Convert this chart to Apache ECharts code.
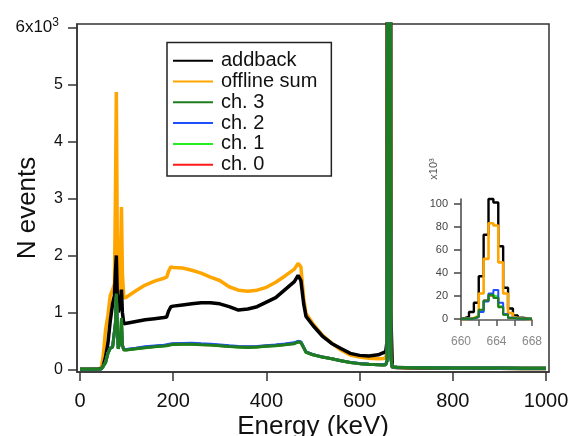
<!DOCTYPE html>
<html><head><meta charset="utf-8">
<script src="https://cdn.jsdelivr.net/npm/echarts@6/dist/echarts.min.js"></script>
<style>html,body{margin:0;padding:0;background:#fff}#c{width:568px;height:436px}</style>
</head><body><div id="c"></div>
<script>
// ---- main spectrum (keV, counts) ----
const energy = [
  0, 20, 40, 46, 50, 55, 60, 65, 70, 74,
  76, 78, 80, 82, 85, 87, 89, 91, 94, 100,
  120, 140, 160, 180, 186, 190, 195, 200, 220, 240,
  260, 280, 300, 320, 340, 360, 380, 400, 420, 440,
  460, 468, 474, 480, 485, 500, 520, 540, 560, 580,
  600, 620, 640, 650, 656, 659, 661, 663, 665, 667,
  670, 680, 700, 750, 800, 850, 900, 950, 1000
];
const offlineSum = [
  0, 2, 8, 30, 250, 700, 950, 1300, 1400, 1500,
  3000, 4870, 2400, 1450, 1350, 1900, 2850, 1700, 1250, 1270,
  1380, 1480, 1550, 1600, 1620, 1720, 1800, 1790, 1780, 1740,
  1690, 1620, 1560, 1450, 1390, 1370, 1390, 1440, 1530, 1640,
  1760, 1860, 1800, 1250, 980, 800, 600, 460, 340, 250,
  215, 195, 185, 190, 200, 400, 40000, 83000, 40000, 800,
  35, 30, 28, 25, 22, 20, 18, 16, 15
];
const addback = [
  0, 1, 5, 15, 60, 220, 460, 850, 1150, 1300,
  1700, 2000, 1300, 1000, 1100, 1250, 1400, 1000, 800, 810,
  840, 870, 890, 910, 920, 1020, 1100, 1110, 1130, 1150,
  1170, 1170, 1150, 1100, 1040, 1060, 1100, 1180, 1260, 1400,
  1540, 1650, 1560, 1150, 930, 770, 585, 455, 365, 280,
  245, 235, 255, 290, 310, 500, 50000, 104000, 50000, 1000,
  40, 30, 28, 25, 22, 20, 18, 16, 15
];
const ch3 = [
  0, 1, 3, 8, 40, 120, 280, 370, 390, 420,
  800, 1330, 800, 360, 350, 550, 900, 420, 340, 340,
  360, 380, 395, 410, 415, 425, 430, 435, 440, 440,
  430, 425, 415, 400, 390, 385, 390, 405, 415, 430,
  450, 480, 470, 380, 300, 255, 215, 185, 150, 120,
  100, 88, 80, 78, 80, 150, 10000, 21000, 10000, 200,
  40, 35, 30, 28, 25, 24, 22, 20, 20
];
const ch2 = [
  0, 1, 3, 8, 42, 125, 290, 375, 395, 425,
  820, 1300, 820, 370, 355, 500, 750, 430, 350, 350,
  370, 395, 410, 425, 430, 440, 445, 450, 455, 458,
  448, 440, 428, 412, 400, 395, 400, 415, 428, 445,
  465, 492, 480, 385, 305, 258, 218, 188, 152, 122,
  102, 90, 82, 80, 82, 150, 11000, 25000, 11000, 200,
  40, 35, 30, 28, 25, 24, 22, 20, 20
];
const ch1 = [
  0, 1, 3, 8, 38, 118, 282, 368, 392, 418,
  790, 1280, 790, 362, 352, 540, 880, 425, 342, 342,
  362, 384, 400, 415, 420, 430, 436, 442, 446, 445,
  436, 430, 420, 404, 394, 388, 393, 408, 420, 436,
  458, 488, 476, 382, 300, 255, 215, 185, 150, 120,
  100, 88, 80, 78, 80, 150, 10000, 20500, 10000, 200,
  40, 35, 30, 28, 25, 24, 22, 20, 20
];
const ch0 = [
  0, 1, 3, 8, 40, 122, 285, 372, 393, 422,
  810, 1310, 810, 365, 352, 530, 860, 422, 345, 345,
  365, 388, 402, 418, 422, 434, 440, 445, 448, 446,
  438, 432, 420, 405, 395, 390, 396, 410, 422, 438,
  460, 486, 474, 382, 302, 256, 216, 186, 151, 121,
  100, 88, 80, 78, 80, 150, 10000, 20000, 10000, 200,
  40, 35, 30, 28, 25, 24, 22, 20, 20
];

// ---- inset: photopeak histogram (bin edges keV, counts x10^3) ----
const insetEdges = [660.0, 660.35, 660.9, 661.45, 662.0, 662.55, 663.1, 663.65, 664.2, 664.75, 665.3, 665.85, 666.4, 666.95, 667.5, 668.0];
const insetAddback = [0.5, 2, 6, 14, 37, 73, 104, 101, 63, 27, 9, 3, 1, 0.3, 0];
const insetOffline = [0, 0.2, 0.8, 2.5, 22, 52, 83, 81, 49, 22, 5, 1, 0.3, 0, 0];
const insetCh3 = [0, 0, 0.3, 2, 8, 16, 21, 18, 10, 3.5, 0.8, 0.2, 0, 0, 0];
const insetCh2 = [0, 0, 0.3, 1.5, 6, 15, 22, 25, 14, 4, 1, 0.2, 0, 0, 0];
const insetCh1 = [0, 0, 0.3, 1.8, 7, 15.5, 20.5, 19, 11, 3.5, 1, 0.2, 0, 0, 0];
const insetCh0 = [0, 0, 0.2, 1.5, 7, 16, 20, 18.5, 10.5, 3.8, 1, 0.2, 0, 0, 0];

// ---- ticks ----
const xTicks = [0, 200, 400, 600, 800, 1000];
const yTicks = [0, 1000, 2000, 3000, 4000, 5000, 6000];
const insetXTicks = [660, 662, 664, 666, 668];
const insetXLabels = [660, 664, 668];
const insetYTicks = [0, 20, 40, 60, 80, 100];

const FONT = '"Liberation Sans", Arial, Helvetica, sans-serif';
const names = ['addback', 'offline sum', 'ch. 3', 'ch. 2', 'ch. 1', 'ch. 0'];
const colors = {
  'addback': '#000000', 'offline sum': '#FFA500', 'ch. 3': '#1E7D1E',
  'ch. 2': '#1F4FFF', 'ch. 1': '#22EE22', 'ch. 0': '#FF1A1A'
};

const pair = (xs, ys) => xs.map((x, i) => [x, ys[i]]);
const steps = (edges, counts) => edges.map((e, i) => [e, counts[Math.min(i, counts.length - 1)]]);

function mainSeries(name, ys, w) {
  return { name, type: 'line', xAxisIndex: 0, yAxisIndex: 0, data: pair(energy, ys),
    showSymbol: false, symbol: 'none', clip: true, color: colors[name],
    lineStyle: { width: w, color: colors[name] } };
}
function insetSeries(name, ys, w) {
  return { name, type: 'line', xAxisIndex: 1, yAxisIndex: 1, data: steps(insetEdges, ys),
    step: 'end', showSymbol: false, symbol: 'none', clip: false, color: colors[name],
    lineStyle: { width: w, color: colors[name] } };
}

const chart = echarts.init(document.getElementById('c'), null, { renderer: 'canvas' });
chart.setOption({
  animation: false,
  backgroundColor: '#fff',
  textStyle: { fontFamily: FONT },
  grid: [
    { left: 77, top: 24, width: 472, height: 348, show: true, borderColor: '#333', borderWidth: 1.5,
      backgroundColor: 'transparent', containLabel: false, outerBoundsMode: 'none' },
    { left: 461, top: 199, width: 71, height: 121, show: false, containLabel: false, outerBoundsMode: 'none' }
  ],
  xAxis: [
    { type: 'value', gridIndex: 0, min: -6.4, max: 1006.4,
      axisLine: { show: true, onZero: false, lineStyle: { color: '#333', width: 1.5 } },
      axisTick: { show: true, inside: false, length: 9, customValues: xTicks, lineStyle: { color: '#333', width: 1.5 } },
      axisLabel: { customValues: xTicks, margin: 19, fontSize: 20, color: '#111', fontFamily: FONT, formatter: v => String(v) },
      splitLine: { show: false },
      name: 'Energy (keV)', nameLocation: 'middle', nameGap: 42, nameMoveOverlap: false,
      nameTextStyle: { fontSize: 26, color: '#111', fontFamily: FONT } },
    { type: 'value', gridIndex: 1, min: 660, max: 668,
      axisLine: { show: true, onZero: false, lineStyle: { color: '#555', width: 1.5 } },
      axisTick: { show: true, length: 6, customValues: insetXTicks, lineStyle: { color: '#555', width: 1.5 } },
      axisLabel: { customValues: insetXLabels, margin: 16, fontSize: 12, color: '#888', fontFamily: FONT, formatter: v => String(v) },
      splitLine: { show: false } }
  ],
  yAxis: [
    { type: 'value', gridIndex: 0, min: -47, max: 6065,
      axisLine: { show: true, onZero: false, lineStyle: { color: '#333', width: 1.5 } },
      axisTick: { show: true, inside: false, length: 9, customValues: yTicks, lineStyle: { color: '#333', width: 1.5 } },
      axisLabel: { customValues: yTicks, margin: 14, fontSize: 16, color: '#111', fontFamily: FONT, align: 'right',
        formatter: v => v === 6000 ? '{a|6x10}{b|3}' : String(v / 1000),
        rich: { a: { fontSize: 17, lineHeight: 22, color: '#111', fontFamily: FONT },
                b: { fontSize: 12, lineHeight: 12, verticalAlign: 'top', color: '#111', fontFamily: FONT, padding: [0, 4, 0, 0] } } },
      splitLine: { show: false },
      name: 'N events', nameLocation: 'middle', nameGap: 36, nameMoveOverlap: false,
      nameTextStyle: { fontSize: 26, color: '#111', fontFamily: FONT, padding: [0, 20, 0, 0] } },
    { type: 'value', gridIndex: 1, min: -1, max: 104,
      axisLine: { show: true, onZero: false, lineStyle: { color: '#444', width: 1.5 } },
      axisTick: { show: true, length: 7, customValues: insetYTicks, lineStyle: { color: '#444', width: 1.5 } },
      axisLabel: { customValues: insetYTicks, margin: 13, fontSize: 11, color: '#444', fontFamily: FONT },
      splitLine: { show: false } }
  ],
  legend: {
    orient: 'vertical', left: 167, top: 42.5, data: names, icon: 'rect',
    itemWidth: 40, itemHeight: 2, itemGap: 0.4,
    borderColor: '#222', borderWidth: 1.5, backgroundColor: '#fff',
    padding: [8, 14, 1, 6],
    textStyle: { fontSize: 20, lineHeight: 20.4, color: '#111', fontFamily: FONT, padding: [0, 0, 0, 3] }
  },
  graphic: [
    { type: 'text', x: 434, y: 169, rotation: Math.PI / 2,
      style: { text: 'x10³', align: 'center', verticalAlign: 'middle',
        fontSize: 11, fill: '#555', fontFamily: FONT } }
  ],
  series: [
    mainSeries('offline sum', offlineSum, 3.5),
    mainSeries('addback', addback, 3.5),
    mainSeries('ch. 0', ch0, 3),
    mainSeries('ch. 1', ch1, 3),
    mainSeries('ch. 2', ch2, 3),
    mainSeries('ch. 3', ch3, 3),
    insetSeries('addback', insetAddback, 2.4),
    insetSeries('offline sum', insetOffline, 2.6),
    insetSeries('ch. 0', insetCh0, 2),
    insetSeries('ch. 1', insetCh1, 2),
    insetSeries('ch. 2', insetCh2, 2),
    insetSeries('ch. 3', insetCh3, 2)
  ]
});
</script></body></html>
